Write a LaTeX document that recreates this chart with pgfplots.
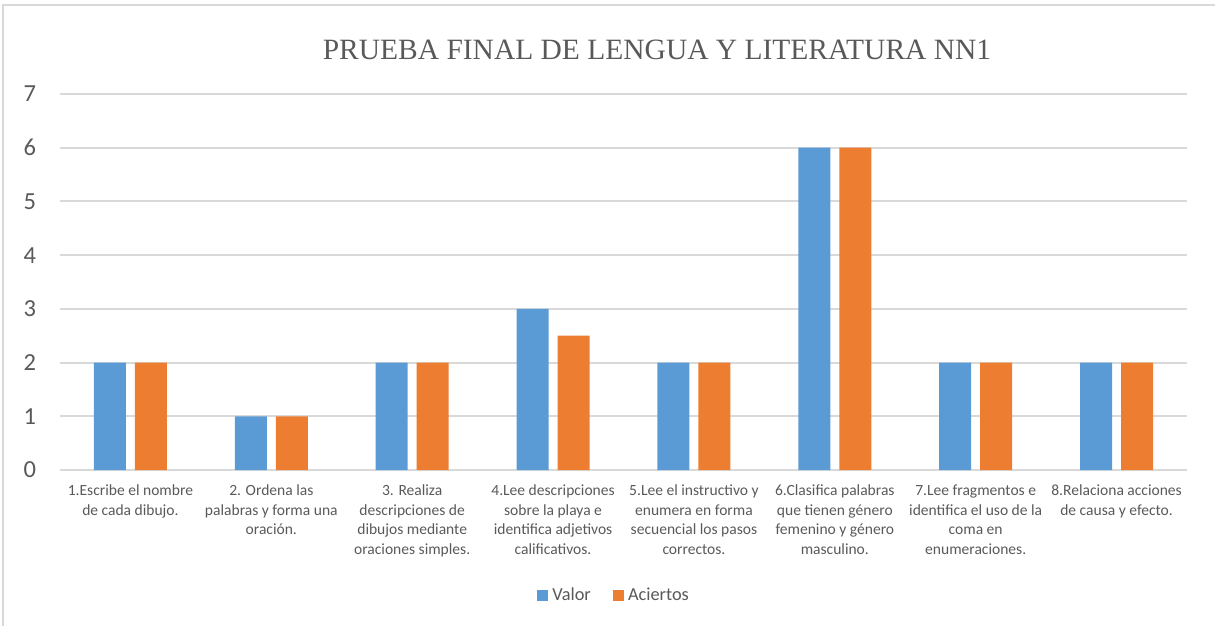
\documentclass[border=0pt]{standalone}
\usepackage{fontspec}
\setmainfont{Carlito}
\newfontfamily\titlefont{Liberation Serif}
\usepackage{pgfplots}
\pgfplotsset{compat=1.18}
\definecolor{valor}{RGB}{91,155,213}
\definecolor{aciertos}{RGB}{237,125,49}
\definecolor{txt}{RGB}{89,89,89}
\definecolor{grd}{RGB}{217,217,217}

\begin{document}
\begin{tikzpicture}
% frame of the image (1215x626 px, 1px = 0.5bp)
\path[use as bounding box] (0,0) rectangle (607.5bp,-313bp);
\draw[grd, line width=1bp] (1.5bp,-313bp) -- (1.5bp,-2.5bp) -- (607.5bp,-2.5bp);
\node[text=txt, font=\titlefont\fontsize{14.8}{17}\selectfont] at (328.5bp,-25bp)
  {PRUEBA FINAL DE LENGUA Y LITERATURA NN1};
\begin{axis}[
    at={(30bp,-235bp)}, anchor=south west,
    scale only axis,
    width=563.5bp, height=188bp,
    ybar=4.5bp, bar width=16bp,
    xmin=-0.5, xmax=7.5,
    ymin=0, ymax=7,
    ytick={0,1,...,7},
    xtick=data,
    xticklabels={
      {1.Escribe el nombre\\de cada dibujo.},
      {2. Ordena las\\palabras y forma una\\oración.},
      {3. Realiza\\descripciones de\\dibujos mediante\\oraciones simples.},
      {4.Lee descripciones\\sobre la playa e\\identifica adjetivos\\calificativos.},
      {5.Lee el instructivo y\\enumera en forma\\secuencial los pasos\\correctos.},
      {6.Clasifica palabras\\que tienen género\\femenino y género\\masculino.},
      {7.Lee fragmentos e\\identifica el uso de la\\coma en\\enumeraciones.},
      {8.Relaciona acciones\\de causa y efecto.}},
    xticklabel style={align=center, anchor=north, yshift=-4bp,
      font=\fontsize{7.8}{9.8}\selectfont, text=txt},
    yticklabel style={font=\fontsize{12.3}{14}\selectfont, text=txt, xshift=-8.5bp},
    /pgf/number format/assume math mode=true,
    major tick length=0pt,
    axis line style={draw=none},
    ymajorgrids, grid style={grd, line width=1bp},
    legend style={at={(0.4925,-0.333)}, anchor=center, draw=none,
      legend columns=2, font=\fontsize{9.2}{11}\selectfont, text=txt,
      /tikz/every even column/.append style={column sep=9bp}},
    legend image code/.code={\fill[#1] (0bp,-2.8bp) rectangle (5.6bp,2.8bp);},
]
\addplot[fill=valor, draw=none] coordinates {
  (0,2) (1,1) (2,2) (3,3) (4,2) (5,6) (6,2) (7,2)};
\addplot[fill=aciertos, draw=none] coordinates {
  (0,2) (1,1) (2,2) (3,2.5) (4,2) (5,6) (6,2) (7,2)};
\legend{Valor, Aciertos}
\end{axis}
\end{tikzpicture}
\end{document}
